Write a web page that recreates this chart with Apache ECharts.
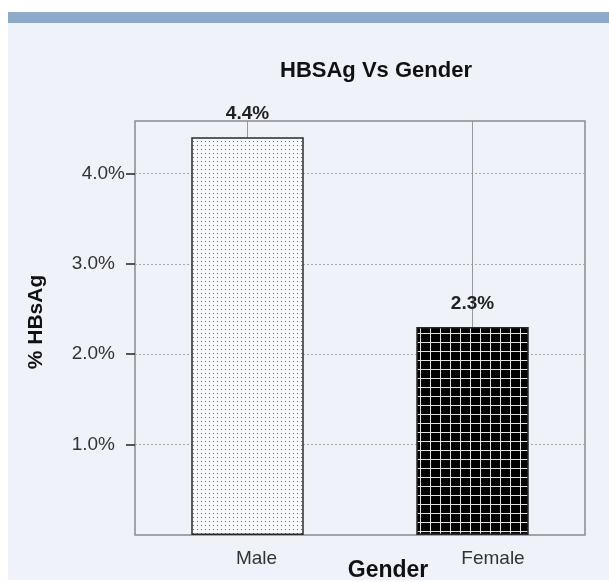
<!DOCTYPE html>
<html>
<head>
<meta charset="utf-8">
<script src="https://cdn.jsdelivr.net/npm/echarts@6/dist/echarts.min.js"></script>
<style>
  html, body { margin: 0; padding: 0; background: #fff; }
  #panel {
    position: absolute; left: 8px; top: 12px; width: 601px; height: 568px;
    box-sizing: border-box; background: #eff2f8; border-top: 11px solid #8eaacb;
  }
  #chart { position: absolute; left: 0; top: 0; width: 609px; height: 582px; }
</style>
</head>
<body>
<div id="panel"></div>
<div id="chart"></div>
<script>
// 数据
const genders = ['Male', 'Female'];
const hbsagPct = [4.4, 2.3];
const yTicks = [1, 2, 3, 4];

// 填充图案
function makePattern(w, h, bg, draw) {
  const c = document.createElement('canvas');
  c.width = w; c.height = h;
  const ctx = c.getContext('2d');
  ctx.fillStyle = bg;
  ctx.fillRect(0, 0, w, h);
  draw(ctx);
  return { image: c, repeat: 'repeat' };
}

const dotFill = makePattern(4, 4, '#f7f8fa', ctx => {
  ctx.fillStyle = '#707070';
  ctx.fillRect(1, 1, 1, 1);
});

const gridFill = makePattern(10, 9, '#000', ctx => {
  ctx.fillStyle = '#e2e2e2';
  ctx.fillRect(0, 0, 10, 1);
  ctx.fillRect(0, 0, 1, 9);
});

const fills = [dotFill, gridFill];
const font = "'Liberation Sans', Arial, sans-serif";

const chart = echarts.init(document.getElementById('chart'));

const option = {
  animation: false,
  title: {
    text: 'HBSAg Vs Gender',
    left: 371,
    textAlign: 'center',
    top: 55,
    textStyle: { fontFamily: font, fontSize: 22, fontWeight: 'bold', color: '#111' }
  },
  grid: {
    left: 135, right: 24, top: 121, bottom: 47,
    outerBoundsMode: 'none',
    containLabel: false,
    show: true,
    borderColor: '#8a8a8a',
    borderWidth: 1.5,
    backgroundColor: 'transparent'
  },
  xAxis: {
    type: 'category',
    data: genders,
    name: 'Gender',
    nameLocation: 'middle',
    nameGap: 24,
    nameMoveOverlap: false,
    nameTextStyle: { fontFamily: font, fontSize: 23, fontWeight: 'bold', color: '#111', padding: [0, 0, 0, 56] },
    axisLine: { show: false },
    axisTick: { alignWithLabel: true, length: 7, lineStyle: { color: '#333', width: 1.5 } },
    axisLabel: {
      margin: 14,
      fontFamily: font,
      fontSize: 19,
      color: '#333',
      formatter: v => v === 'Male' ? '{m|' + v + '}' : '{f|' + v + '}',
      rich: {
        m: { fontFamily: font, fontSize: 19, color: '#333', padding: [0, 0, 0, 18] },
        f: { fontFamily: font, fontSize: 19, color: '#333', padding: [0, 0, 0, 41] }
      }
    },
    splitLine: { show: false }
  },
  yAxis: {
    type: 'value',
    min: 0,
    max: 4.58,
    interval: 1,
    name: '% HBsAg',
    nameLocation: 'middle',
    nameGap: 88,
    nameMoveOverlap: false,
    nameTextStyle: { fontFamily: font, fontSize: 21, fontWeight: 'bold', color: '#111', padding: [0, 0, 0, 12] },
    axisLine: { show: false },
    axisTick: { show: true, length: 9, customValues: yTicks, lineStyle: { color: '#222', width: 1.5 } },
    axisLabel: {
      margin: 10,
      customValues: yTicks,
      fontFamily: font,
      fontSize: 19,
      color: '#333',
      formatter: v => v === 4 ? '{a|4.0%}' : '{b|' + v.toFixed(1) + '%}',
      rich: {
        a: { fontFamily: font, fontSize: 19, color: '#333' },
        b: { fontFamily: font, fontSize: 19, color: '#333', padding: [0, 10, 0, 0] }
      }
    },
    splitLine: { show: true, lineStyle: { color: '#a8a8a8', type: [2, 2], width: 1 } }
  },
  series: [
    {
      // 类别中心竖线
      type: 'line',
      data: [],
      z: 1,
      silent: true,
      markLine: {
        z: 1,
        silent: true,
        symbol: 'none',
        label: { show: false },
        lineStyle: { color: '#999', type: 'solid', width: 1 },
        data: genders.map(g => ({ xAxis: g }))
      }
    },
    {
      type: 'bar',
      z: 3,
      barWidth: '50%',
      data: hbsagPct.map((v, i) => ({
        value: v,
        itemStyle: { color: fills[i] }
      })),
      itemStyle: { borderColor: '#2a2a2a', borderWidth: 1.5 },
      label: {
        show: true,
        position: 'top',
        distance: 14,
        fontFamily: font,
        fontSize: 19,
        fontWeight: 'bold',
        color: '#222',
        formatter: p => p.value.toFixed(1) + '%'
      }
    }
  ]
};

chart.setOption(option);
</script>
</body>
</html>
